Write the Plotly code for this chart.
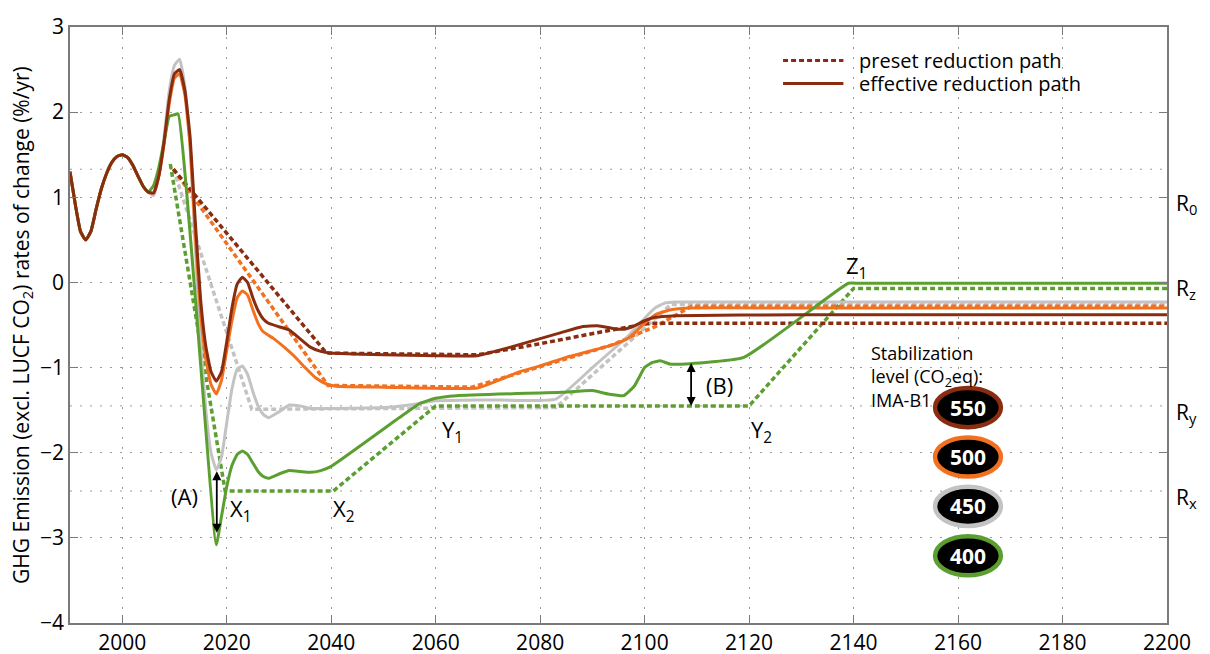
import plotly.graph_objects as go

# shared historical rates 1990-2005
hist_years = [1990, 1991, 1992, 1993, 1994, 1995, 1996, 1997, 1998, 1999, 2000, 2001, 2002, 2003, 2004, 2005]
hist_vals = [1.30, 0.92, 0.60, 0.50, 0.60, 0.86, 1.10, 1.28, 1.41, 1.48, 1.50, 1.47, 1.38, 1.25, 1.13, 1.06]

# effective reduction paths
eff_550_years = [2006, 2007, 2008, 2009, 2010, 2011, 2012, 2013, 2014, 2015, 2016, 2017, 2018, 2019, 2020, 2021,
                 2022, 2023, 2024, 2025, 2026, 2027, 2028, 2030, 2032, 2034, 2036, 2038, 2040, 2050, 2060, 2068,
                 2072, 2076, 2080, 2084, 2088, 2091, 2094, 2096, 2098, 2100, 2102, 2106, 2130, 2170, 2200]
eff_550_vals = [1.05, 1.25, 1.65, 2.15, 2.45, 2.50, 2.25, 1.70, 0.70, -0.20, -0.75, -1.05, -1.16, -1.05, -0.70, -0.30,
                -0.02, 0.06, 0.00, -0.18, -0.33, -0.43, -0.48, -0.52, -0.56, -0.66, -0.76, -0.81, -0.83, -0.85, -0.86, -0.86,
                -0.80, -0.73, -0.66, -0.59, -0.52, -0.51, -0.54, -0.55, -0.51, -0.45, -0.41, -0.39, -0.38, -0.38, -0.38]

eff_500_years = [2006, 2007, 2008, 2009, 2010, 2011, 2012, 2013, 2014, 2015, 2016, 2017, 2018, 2019, 2020, 2021,
                 2022, 2023, 2024, 2025, 2026, 2027, 2029, 2031, 2033, 2035, 2037, 2039, 2041, 2050, 2068, 2072,
                 2076, 2080, 2085, 2090, 2094, 2097, 2100, 2102, 2105, 2109, 2130, 2170, 2200]
eff_500_vals = [1.05, 1.25, 1.62, 2.10, 2.40, 2.45, 2.20, 1.60, 0.55, -0.35, -0.90, -1.20, -1.31, -1.15, -0.80, -0.45,
                -0.18, -0.10, -0.15, -0.32, -0.48, -0.58, -0.66, -0.76, -0.87, -1.00, -1.12, -1.19, -1.22, -1.23, -1.24, -1.15,
                -1.05, -0.98, -0.88, -0.80, -0.73, -0.65, -0.48, -0.38, -0.32, -0.30, -0.30, -0.30, -0.30]

eff_450_years = [2006, 2007, 2008, 2009, 2010, 2011, 2012, 2013, 2014, 2015, 2016, 2017, 2018, 2019, 2020, 2021,
                 2022, 2023, 2024, 2025, 2026, 2027, 2028, 2030, 2032, 2034, 2036, 2040, 2050, 2056, 2060, 2070,
                 2083, 2090, 2097, 2100, 2102, 2104, 2106, 2130, 2170, 2200]
eff_450_vals = [1.02, 1.25, 1.70, 2.25, 2.55, 2.62, 2.30, 1.60, 0.40, -0.70, -1.50, -2.00, -2.20, -2.05, -1.65, -1.25,
                -1.02, -0.98, -1.08, -1.28, -1.45, -1.55, -1.59, -1.52, -1.44, -1.45, -1.48, -1.48, -1.47, -1.43, -1.39, -1.38,
                -1.37, -1.00, -0.62, -0.42, -0.30, -0.24, -0.23, -0.23, -0.23, -0.23]

eff_400_years = [2006, 2007, 2008, 2009, 2010, 2010.7, 2018, 2019, 2020, 2021, 2022, 2023, 2024, 2025, 2026, 2027,
                 2028, 2030, 2032, 2034, 2036, 2038, 2040, 2053, 2057, 2060, 2064, 2084, 2090, 2093, 2096, 2098,
                 2100, 2101.5, 2103, 2105, 2119, 2139, 2141, 2160, 2200]
eff_400_vals = [1.14, 1.35, 1.65, 1.95, 1.97, 1.98, -3.08, -2.75, -2.40, -2.15, -2.02, -1.98, -2.02, -2.12, -2.22, -2.28,
                -2.30, -2.25, -2.21, -2.22, -2.23, -2.21, -2.16, -1.59, -1.42, -1.36, -1.33, -1.29, -1.27, -1.31, -1.33, -1.22,
                -1.00, -0.94, -0.92, -0.96, -0.88, -0.01, -0.01, -0.01, -0.01]

# preset reduction paths
pre_550_years = [2009.8, 2039.1, 2068, 2080, 2092.7, 2101, 2200]
pre_550_vals = [1.33, -0.83, -0.85, -0.72, -0.57, -0.48, -0.48]
pre_500_years = [2009.8, 2039.4, 2067, 2094, 2098, 2102, 2109, 2200]
pre_500_vals = [1.33, -1.21, -1.23, -0.73, -0.62, -0.52, -0.28, -0.28]
pre_450_years = [2009.8, 2024.8, 2083, 2105, 2200]
pre_450_vals = [1.33, -1.49, -1.47, -0.26, -0.26]
pre_400_years = [2009.2, 2019.7, 2040.4, 2060, 2120, 2140, 2200]
pre_400_vals = [1.39, -2.45, -2.45, -1.45, -1.45, -0.07, -0.07]

levels = ["450", "500", "400", "550"]
colors = {"550": "#8a2c0f", "500": "#f3701f", "450": "#c3c3c3", "400": "#5c9f31"}
effective = {"550": (eff_550_years, eff_550_vals), "500": (eff_500_years, eff_500_vals),
             "450": (eff_450_years, eff_450_vals), "400": (eff_400_years, eff_400_vals)}
preset = {"550": (pre_550_years, pre_550_vals), "500": (pre_500_years, pre_500_vals),
          "450": (pre_450_years, pre_450_vals), "400": (pre_400_years, pre_400_vals)}

# reference levels shown on the right
r_names = ["R<sub>0</sub>", "R<sub>z</sub>", "R<sub>y</sub>", "R<sub>x</sub>"]
r_vals = [1.0, 0.0, -1.45, -2.45]
extra_grid = [1.33, -1.45, -2.45]

FONT = "Open Sans"
fig = go.Figure()

for lv in levels:
    c = colors[lv]
    px_, pv = preset[lv]
    fig.add_trace(go.Scatter(x=px_, y=pv, mode="lines", line=dict(color=c, width=3.5, dash="5px,3px"),
                             showlegend=False, hoverinfo="skip"))
for lv in levels:
    c = colors[lv]
    ex, ev = effective[lv]
    fig.add_trace(go.Scatter(x=hist_years + ex, y=hist_vals + ev, mode="lines",
                             line=dict(color=c, width=3, shape="spline", smoothing=0.4),
                             showlegend=False, hoverinfo="skip"))

# extra dotted grid lines
for g in extra_grid:
    fig.add_shape(type="line", xref="paper", x0=0, x1=1, yref="y", y0=g, y1=g,
                  line=dict(color="#9a9a9a", width=1, dash="2px,8px"), layer="below")

# legend drawn by hand
fig.add_shape(type="line", xref="paper", yref="paper", x0=0.65, x1=0.705, y0=0.944, y1=0.944,
              line=dict(color=colors["550"], width=3, dash="5px,3px"))
fig.add_shape(type="line", xref="paper", yref="paper", x0=0.65, x1=0.705, y0=0.905, y1=0.905,
              line=dict(color=colors["550"], width=3))
fig.add_annotation(xref="paper", yref="paper", x=0.717, y=0.944, text="preset reduction path",
                   showarrow=False, xanchor="left", yanchor="middle",
                   font=dict(size=20, color="black", family=FONT))
fig.add_annotation(xref="paper", yref="paper", x=0.717, y=0.905, text="effective reduction path",
                   showarrow=False, xanchor="left", yanchor="middle",
                   font=dict(size=20, color="black", family=FONT))

# labelled points
labels = [("(A)", 2012.0, -2.51), ("X<sub>1</sub>", 2022.8, -2.67), ("X<sub>2</sub>", 2042.5, -2.67),
          ("Y<sub>1</sub>", 2063.3, -1.75), ("Y<sub>2</sub>", 2122.3, -1.75), ("Z<sub>1</sub>", 2140.5, 0.18),
          ("(B)", 2114.4, -1.2)]
for t, lx, ly in labels:
    fig.add_annotation(x=lx, y=ly, text=t, showarrow=False, font=dict(size=22, color="black", family=FONT))

# double headed arrows (A) and (B)
for axx, y_top, y_bot in [(2018.1, -2.2, -2.94), (2108.9, -0.93, -1.45)]:
    fig.add_annotation(x=axx, y=y_bot, ax=axx, ay=y_top, axref="x", ayref="y", text="",
                       showarrow=True, arrowhead=2, startarrowhead=2, arrowside="end+start",
                       arrowsize=1, arrowwidth=1.8, arrowcolor="black")

for name, rv in zip(r_names, r_vals):
    fig.add_annotation(xref="paper", x=1.006, y=rv - 0.08, text=name, showarrow=False,
                       xanchor="left", yanchor="middle",
                       font=dict(size=21, color="black", family=FONT))

fig.add_annotation(x=2143.0, y=-0.66, text="Stabilization<br>level (CO<sub>2</sub>eq):<br>IMA-B1",
                   showarrow=False, xanchor="left", yanchor="top", align="left",
                   font=dict(size=18, color="black", family=FONT))

# y axis title
fig.add_annotation(xref="paper", yref="paper", x=0, y=0.5, xshift=-48, xanchor="center", yanchor="middle",
                   textangle=-90,
                   text="GHG Emission (excl. LUCF CO<sub>2</sub>) rates of change (%/yr)",
                   showarrow=False, font=dict(size=21, color="black", family=FONT))

# stabilization badges
badge_levels = ["550", "500", "450", "400"]
badge_y = [-1.47, -2.05, -2.63, -3.21]
for lv, by in zip(badge_levels, badge_y):
    fig.add_shape(type="circle", xref="x", yref="y", x0=2155.6, x1=2168.2, y0=by - 0.23, y1=by + 0.23,
                  fillcolor="black", line=dict(color=colors[lv], width=4.5))
    fig.add_annotation(x=2161.9, y=by, text="<b>%s</b>" % lv, showarrow=False,
                       font=dict(size=21, color="white", family=FONT))

axis_common = dict(showline=True, linecolor="#7a7a7a", linewidth=1.5, mirror="ticks", ticks="inside",
                   ticklen=8, tickcolor="#7a7a7a", showgrid=True, gridcolor="#9a9a9a", gridwidth=1,
                   griddash="2px,8px", zeroline=False, automargin=False,
                   tickfont=dict(size=21, color="black", family=FONT))

fig.update_xaxes(range=[1990, 2200], tick0=2000, dtick=20, **axis_common)
fig.update_yaxes(range=[-4, 3], dtick=1, **axis_common)

# page body adds an 8px offset, so the figure is a little smaller than the window
fig.update_layout(width=1202, height=646, margin=dict(l=62, r=43, t=19, b=31),
                  plot_bgcolor="white", paper_bgcolor="white", showlegend=False,
                  font=dict(family=FONT, color="black"))

fig.write_html("out.html")
